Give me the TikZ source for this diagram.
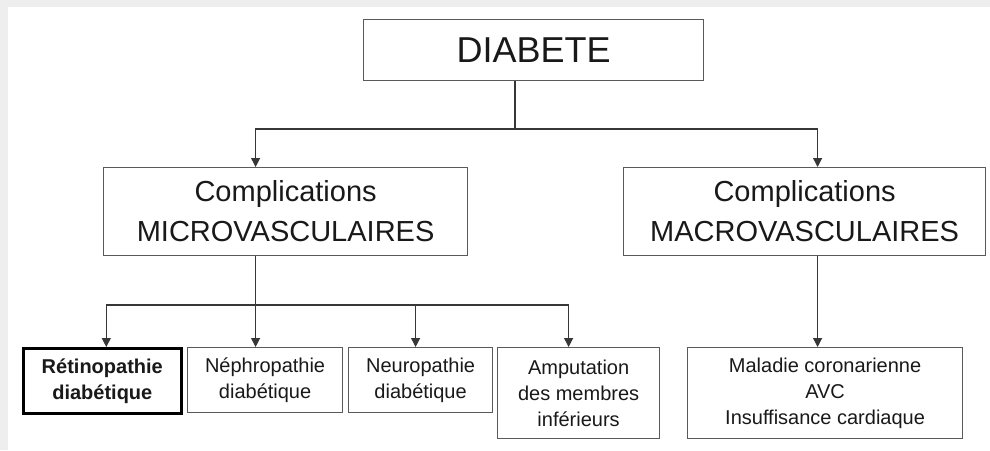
\documentclass[tikz,border=0pt]{standalone}
\usepackage{fontspec}
\setmainfont{Liberation Sans}
\usepackage{tikz}
\usetikzlibrary{arrows,arrows.meta,shapes,positioning}
\usepackage{xcolor}
\definecolor{dbframe}{RGB}{90,90,90}
\definecolor{dbline}{RGB}{55,55,55}
\definecolor{dbtext}{RGB}{25,25,25}
\definecolor{dbshade}{RGB}{238,238,238}
\tikzstyle{box} = [rectangle, anchor=north west, inner sep=0pt, text centered, align=center, draw=dbframe, line width=1.2pt, text=dbtext]
\tikzstyle{bigbox} = [box, font=\fontsize{29}{40}\selectfont]
\tikzstyle{smallbox} = [box, font=\fontsize{20}{26}\selectfont]
\tikzstyle{link} = [line width=1.2pt, color=dbline]
\tikzstyle{arrow} = [link, -{Triangle[length=9pt,width=9pt]}]

\begin{document}
\begin{tikzpicture}[x=1pt, y=-1pt]
\useasboundingbox (0,0) rectangle (990,450);
% Page background
\fill[dbshade] (0,0) rectangle (990,450);
\fill[white] (8,7) rectangle (990,450);

% Boxes
\node (diab) [box, minimum width=340pt, minimum height=61pt, font=\fontsize{36}{40}\selectfont] at (363,19) {DIABETE};
\node (micro) [bigbox, minimum width=364pt, minimum height=88pt] at (103,167) {Complications\\MICROVASCULAIRES};
\node (macro) [bigbox, minimum width=362pt, minimum height=88pt] at (623,167) {Complications\\MACROVASCULAIRES};
\node (retino) [smallbox, minimum width=158pt, minimum height=65pt, draw=black, line width=2.6pt, font=\fontsize{20}{26}\selectfont\bfseries] at (22,347) {Rétinopathie\\diabétique};
\node (nephro) [smallbox, minimum width=155pt, minimum height=65pt] at (187,347) {Néphropathie\\diabétique};
\node (neuro) [smallbox, minimum width=144pt, minimum height=65pt] at (348,347) {Neuropathie\\diabétique};
\node (amput) [smallbox, minimum width=162pt, minimum height=91pt] at (497,347) {Amputation\\des membres\\inférieurs};
\node (malad) [smallbox, minimum width=275pt, minimum height=91pt] at (687,347) {Maladie coronarienne\\AVC\\Insuffisance cardiaque};

% Arrows
\coordinate (trunk) at (515,129);
\coordinate (branch) at ([xshift=-30pt]micro.south |- 0,305);
\draw[link] (diab.south -| trunk) -- (trunk);
\draw[arrow] (trunk) -| ([xshift=-30pt]micro.north);
\draw[arrow] (trunk) -| ([xshift=13pt]macro.north);
\draw[link] ([xshift=-30pt]micro.south) -- (branch);
\draw[arrow] (branch) -| ([xshift=4pt]retino.north);
\draw[arrow] (branch) -- (branch |- nephro.north);
\draw[arrow] (branch) -| ([xshift=-5pt]neuro.north);
\draw[arrow] (branch) -| ([xshift=-10pt]amput.north);
\draw[arrow] ([xshift=13pt]macro.south) -- ([xshift=13pt]macro.south |- malad.north);
\end{tikzpicture}
\end{document}
